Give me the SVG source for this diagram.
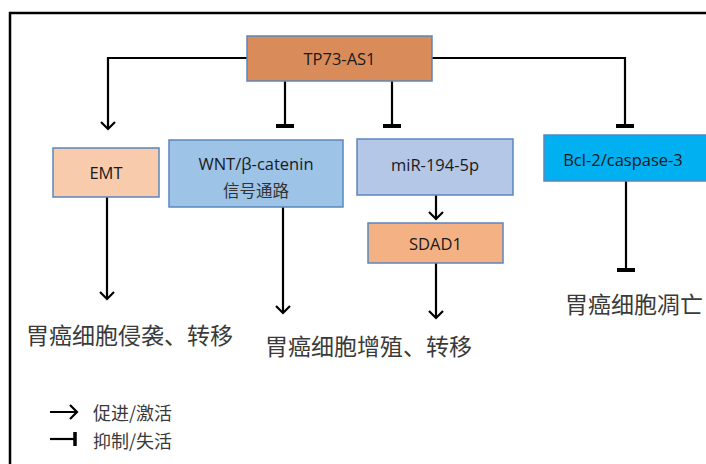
<svg xmlns="http://www.w3.org/2000/svg" width="706" height="464" viewBox="0 0 706 464">
<defs>
<style>
.box{stroke:#5A86BD;stroke-width:1.5}
.lbl{font-family:"Open Sans","Noto Sans",sans-serif;font-size:16.5px;fill:#1a1a1a;text-anchor:middle;dominant-baseline:central}
.cn{font-family:"Noto Sans CJK SC",sans-serif;fill:#3a3a3a;dominant-baseline:central}
.ln{stroke:#000;stroke-width:2.2;fill:none}
.bar{stroke:#000;stroke-width:4;fill:none}
</style>
<marker id="arr" markerWidth="16" markerHeight="16" refX="8" refY="8" orient="auto" markerUnits="userSpaceOnUse">
<polyline points="1,1 8,8 1,15" fill="none" stroke="#000" stroke-width="2.2"/>
</marker>
</defs>
<rect width="706" height="464" fill="#fff"/>
<path d="M10 464 V13 H706" fill="none" stroke="#000" stroke-width="2.5"/>

<g id="connectors">
<path class="ln" d="M247 58 H108 V129" marker-end="url(#arr)"/>
<path class="ln" d="M432 58 H625 V126"/>
<path class="bar" d="M616 126 H634"/>
<path class="ln" d="M285 81 V126"/>
<path class="bar" d="M276 126 H294"/>
<path class="ln" d="M392 81 V126"/>
<path class="bar" d="M383 126 H401"/>
<path class="ln" d="M107 197 V299" marker-end="url(#arr)"/>
<path class="ln" d="M283 207 V313" marker-end="url(#arr)"/>
<path class="ln" d="M436 195 V219" marker-end="url(#arr)"/>
<path class="ln" d="M436 263 V318" marker-end="url(#arr)"/>
<path class="ln" d="M626 181 V270"/>
<path class="bar" d="M617 270 H635"/>
</g>

<g id="tp73">
<rect class="box" x="247" y="36" width="185" height="45" fill="#D98C5A"/>
<text class="lbl" x="339.5" y="58.5">TP73-AS1</text>
</g>
<g id="emt">
<rect class="box" x="53" y="148" width="106" height="49" fill="#F8CBAD"/>
<text class="lbl" x="106" y="172">EMT</text>
</g>
<g id="wnt">
<rect class="box" x="169" y="140" width="174" height="67" fill="#9DC3E6"/>
<text class="lbl" x="256" y="163">WNT/β-catenin</text>
<text class="lbl" x="256" y="190" style="font-family:'Noto Sans CJK SC',sans-serif;font-size:16.5px;fill:#333">信号通路</text>
</g>
<g id="mir">
<rect class="box" x="357" y="139" width="156" height="56" fill="#B4C7E7"/>
<text class="lbl" x="435" y="164">miR-194-5p</text>
</g>
<g id="sdad1">
<rect class="box" x="368" y="223" width="135" height="40" fill="#F4B183"/>
<text class="lbl" x="435.5" y="243">SDAD1</text>
</g>
<g id="bcl2">
<rect class="box" x="544" y="135" width="164" height="46" fill="#00B0F0"/>
<text class="lbl" x="623" y="159">Bcl-2/caspase-3</text>
</g>

<g id="out1"><text class="cn" x="26" y="334" font-size="23">胃癌细胞侵袭、转移</text></g>
<g id="out2"><text class="cn" x="265" y="345" font-size="23">胃癌细胞增殖、转移</text></g>
<g id="out3"><text class="cn" x="565" y="303" font-size="23">胃癌细胞凋亡</text></g>

<g id="legend">
<path class="ln" d="M50 412 H77" marker-end="url(#arr)" style="stroke-width:2"/>
<path class="ln" d="M50 439 H75"/>
<path class="bar" d="M75 432 V446" style="stroke-width:3.5"/>
<text class="cn" x="93" y="412" font-size="18">促进/激活</text>
<text class="cn" x="93" y="440" font-size="18">抑制/失活</text>
</g>
</svg>
